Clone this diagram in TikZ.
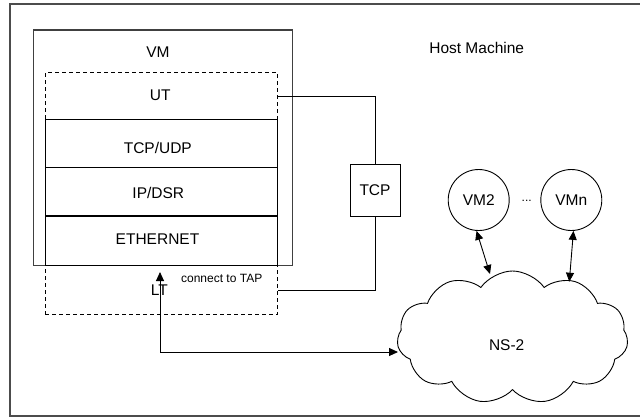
\documentclass[tikz,border=0pt]{standalone}
\usepackage{fontspec}
\setmainfont{Liberation Sans}
\usetikzlibrary{arrows.meta,shapes.symbols}
\begin{document}
\begin{tikzpicture}[x=1pt,y=-1pt,
  txt/.style={anchor=base,inner sep=0pt,font=\fontsize{15.5}{18}\selectfont},
  smalltxt/.style={anchor=base,inner sep=0pt,font=\fontsize{12}{14}\selectfont},
  ln/.style={line width=0.9pt,draw=black},
  box/.style={draw=black,line width=0.9pt,inner sep=0pt,anchor=north west},
  dashbox/.style={box,dash pattern=on 4pt off 3pt},
  vmcircle/.style={circle,draw=black,line width=0.9pt,inner sep=0pt,minimum size=61pt,font=\fontsize{15.5}{18}\selectfont},
  tri/.style={Triangle[length=9pt,width=8pt]},
  arr/.style={ln,{Triangle[length=9pt,width=8pt]}-{Triangle[length=9pt,width=8pt]}}
]
\useasboundingbox (0,0) rectangle (640,418);
% host frame
\node[box,draw=black!70,line width=1.6pt,minimum width=637pt,minimum height=412pt] (host) at (9,3) {};
\node[txt] (hostlbl) at (476.7,53.8) {Host Machine};
% VM
\node[box,draw=black!75,line width=1.3pt,minimum width=259pt,minimum height=235.7pt] (vm) at (32.7,29.3) {};
\node[txt] (vmlbl) at (158,57.2) {VM};
% dashed UT/LT box
\node[dashbox,minimum width=232pt,minimum height=242.3pt] (ut) at (45,72) {};
\node[txt] (utlbl) at (160.3,100.7) {UT};
% stack
\node[box,minimum width=232pt,minimum height=47.4pt] (tcpudp) at (45,119.3) {};
\node[box,minimum width=232pt,minimum height=49.3pt] (ipdsr) at (45,166.7) {};
\node[box,minimum width=232pt,minimum height=49pt] (eth) at (45,216) {};
\draw[line width=1.8pt] (eth.north west) -- (eth.north east);
\node[txt] (tcpudplbl) at (157.8,153) {TCP/UDP};
\node[txt] (ipdsrlbl) at (158.3,198.3) {IP/DSR};
\node[txt] (ethlbl) at (157.5,244.2) {ETHERNET};
\node[txt] (ltlbl) at (159.3,295.5) {LT};
\node[smalltxt] (taplbl) at (221.7,282.6) {connect to TAP};
% TCP box
\node[box,anchor=center,minimum width=50pt,minimum height=52.4pt,font=\fontsize{15.5}{18}\selectfont] (tcp) at (375,190.5) {TCP};
\path (ut.north east) ++(0,24) coordinate (w1);
\path (ut.south east) ++(0,-24.6) coordinate (w2);
\draw[ln] (w1) -| (tcp.north);
\draw[ln] (w2) -| (tcp.south);
% VMs
\node[vmcircle] (vm2) at (478.7,200) {VM2};
\node[vmcircle] (vmn) at (571.3,200) {VMn};
\node[txt,font=\fontsize{12}{14}\selectfont] (dots) at (526.7,201) {...};
% cloud
\node[cloud,draw=black,line width=0.9pt,cloud puffs=11,cloud puff arc=110,aspect=1.74,minimum width=231pt,minimum height=133pt,inner sep=0pt] (ns) at (512.5,337.5) {};
\node[txt] (nslbl) at (506.7,350.5) {NS-2};
% arrows
\coordinate (tap) at (160,272);
\coordinate (c0) at (398,352);
\coordinate (c1) at (490,274);
\coordinate (c2) at (569.3,281.7);
\draw[arr] (tap) |- (c0);
\draw[arr] (vm2.-94) -- (c1);
\draw[arr] (vmn.-86) -- (c2);
\end{tikzpicture}
\end{document}
